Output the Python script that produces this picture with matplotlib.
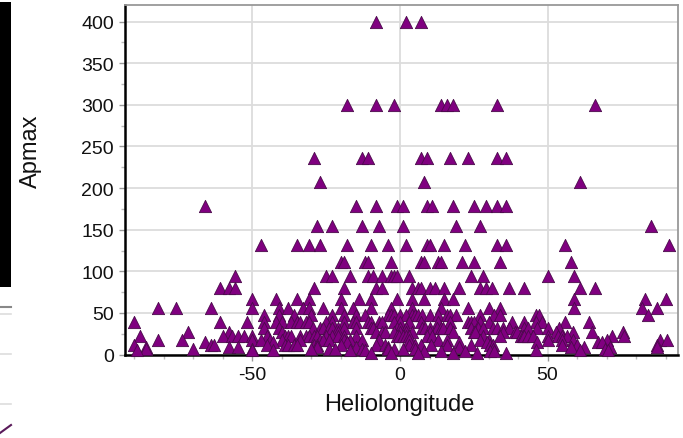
import matplotlib
matplotlib.use("Agg")
import matplotlib.pyplot as plt
from matplotlib.lines import Line2D
from matplotlib.patches import Rectangle
from matplotlib.ticker import MultipleLocator

plt.rcParams['font.family'] = ['Liberation Sans', 'DejaVu Sans']
plt.rcParams['axes.unicode_minus'] = False

# Heliolongitude values grouped by Apmax level
levels = {
    400: [-8, 2, 7],
    300: [-18, -8, -2, 14, 16, 18, 33, 66],
    236: [-29, -13, -11, 7, 9, 17, 23, 33, 36],
    207: [-27, 8, 61],
    179: [-66, -15, -8, -1, 1, 9, 11, 18, 25, 29, 33, 36],
    154: [-28, -23, -13, -7, 1, 19, 27, 85],
    132: [-47, -35, -31, -27, -18, -10, -4, 2, 9, 10, 15, 22, 33, 36, 56, 91],
    111: [-20, -19, -12, -11, -3, 7, 8, 13, 14, 21, 25, 34, 58],
    94: [-56, -25, -23, -17, -11, -9, -6, -3, -2, -1, 3, 24, 28, 50, 59],
    80: [-61, -58, -56, -29, -19, -8, -6, 4, 6, 7, 10, 12, 15, 20, 27, 29, 31, 37, 42, 61, 66],
    67: [-50, -42, -35, -31, -20, -14, -10, -1, 4, 8, 15, 18, 59, 83, 90],
    56: [-82, -76, -64, -50, -41, -38, -33, -31, -26, -20, -16, -10, -3, 4, 14, 23, 30, 34, 59, 82, 87],
    48: [-46, -41, -36, -30, -23, -19, -15, -12, -4, -3, -2, 0, 2, 4, 5, 6, 7.5, 10, 13, 16, 17, 19, 27, 32, 34, 46, 47, 84],
    39: [-90, -61, -52, -46, -42, -40, -37, -35, -34, -32, -31, -25, -23, -19, -16, -15, -11, -10, -7, -6, -2, 0, 3, 7,
         13, 17, 23, 24, 25, 27, 30, 38, 42, 46, 48, 56, 64],
    32: [-46, -41, -29.5, -27, -26, -24, -23, -21, -19, -15, -10, -9, -1, 0, 2, 7.5, 8.5, 10, 12.5, 14, 14.5, 17, 24,
         26.5, 28, 31.5, 33, 35, 37, 42, 43.5, 46.5, 50, 54],
    27: [-72, -58, -40, -21, -8, -6, -5, -2, 0, 2, 4, 10, 18, 25, 25.5, 35, 39, 39.5, 53, 58.5, 65, 75.6],
    22: [-88, -60, -57, -55, -53, -50, -45, -39, -38, -37, -34, -32, -31, -29, -28, -25, -23, -21, -19, -15, -1, -0.5,
         1, 2, 3, 9, 11, 28, 34, 41, 41.7, 42, 43.4, 45, 50, 53.5, 55, 56.6, 72, 76],
    18: [-82, -74, -50, -47, -44, -40, -34, -27, -26, -24, -19, -17, -13, -7, 3, 13, 16, 27, 30, 50, 55, 58.5, 70, 88, 90.5],
    15: [-66, -43, -18, 20, 29.5, 46.4, 67, 68.5],
    12: [-90, -64, -63, -45, -39, -38, -36, -35, -29, -28, -20, -8, -5, 3, 5, 7, 10.5, 16, 24, 30.5, 31.5, 55, 60, 87],
    9: [-86, -58, -55, -28, -15, -4, 20, 58, 62.5, 71, 87],
    7: [-86, -70, -50, -30, -24, -22, -13, -4, -2, 1, 5, 31.5, 69.5],
    5: [-89, -50, -43, -17, -12, 46, 61, 70.5],
    4: [8, 14, 22, 30.5, 32],
    2: [-10, -3, 6, 18, 26, 36],
}

helio = []
apmax = []
for ap, xs in levels.items():
    for x in xs:
        helio.append(x)
        apmax.append(ap)

x_ticks = [-50, 0, 50]
y_ticks = [0, 50, 100, 150, 200, 250, 300, 350, 400]

fig = plt.figure(figsize=(6.83, 4.39), dpi=100)
fig.patch.set_facecolor('white')

# screenshot decorations on the left edge
fig.patches.append(Rectangle((0, 1 - 288 / 439), 11 / 683, (288 - 3) / 439,
                             transform=fig.transFigure, facecolor='black', edgecolor='none'))
for yy, col, lw in [(308, '#888888', 1.5), (315, '#dddddd', 1.2), (355, '#dddddd', 1.2), (405, '#dddddd', 1.2)]:
    fig.lines.append(Line2D([0, 11 / 683], [1 - yy / 439, 1 - yy / 439], transform=fig.transFigure,
                            color=col, lw=lw))
fig.lines.append(Line2D([0, 11 / 683], [1 - 434 / 439, 1 - 426 / 439], transform=fig.transFigure,
                        color='#5a1a5a', lw=1.5))

ax = fig.add_axes([125 / 683, (439 - 356) / 439, (678 - 125) / 683, (356 - 6) / 439])
ax.scatter(helio, apmax, marker='^', s=78, facecolor='#800080', edgecolor='#4a0a4a',
           linewidths=0.6, zorder=3, clip_on=False)

ax.set_xlim(-93.2, 94.2)
ax.set_ylim(-0.5, 420)
ax.set_xticks(x_ticks)
ax.set_yticks(y_ticks)
ax.xaxis.set_minor_locator(MultipleLocator(10))
ax.yaxis.set_minor_locator(MultipleLocator(25))
ax.grid(True, which='major', color='#dcdcdc', lw=1.3, zorder=0)
ax.set_axisbelow(True)

ax.tick_params(which='major', direction='out', length=4, width=1, color='#999999',
               labelsize=14, pad=4, labelcolor='#111111')
ax.tick_params(which='minor', direction='out', length=3, width=1, color='#bbbbbb')

for side in ['left', 'bottom']:
    ax.spines[side].set_color('black')
    ax.spines[side].set_linewidth(1.8)
for side in ['top', 'right']:
    ax.spines[side].set_color('#999999')
    ax.spines[side].set_linewidth(1.3)

ax.set_xlabel('Heliolongitude', fontsize=17, color='#111111')
ax.set_ylabel('Apmax', fontsize=17, color='#111111')
ax.xaxis.set_label_coords((399 - 125) / 553, -0.11)
ax.yaxis.set_label_coords((42 - 125) / 553, 0.586)

fig.savefig('out.png', dpi=100, facecolor='white')
